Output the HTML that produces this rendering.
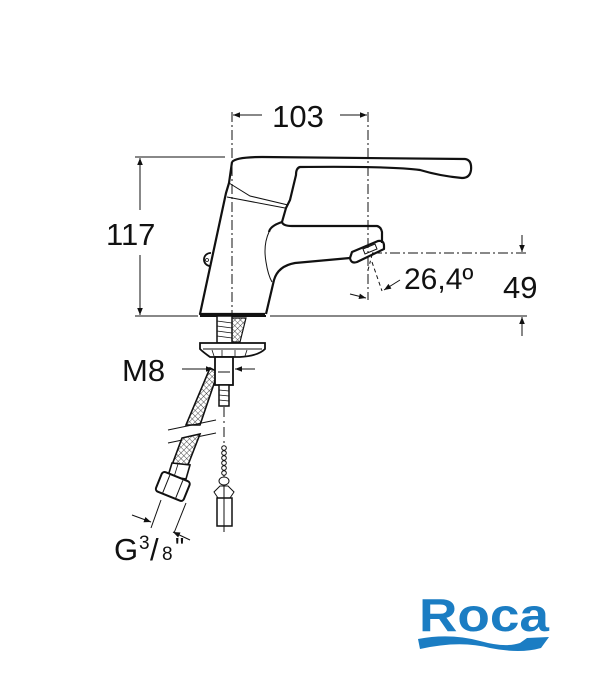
<!DOCTYPE html>
<html><head><meta charset="utf-8"><style>
html,body{margin:0;padding:0;background:#fff;}
svg{display:block;}
text{font-family:"Liberation Sans",Arial,sans-serif;fill:#111;}
</style></head><body>
<svg width="600" height="700" viewBox="0 0 600 700" xmlns="http://www.w3.org/2000/svg">
<defs>
<pattern id="hx" width="4" height="4" patternUnits="userSpaceOnUse" patternTransform="rotate(45)">
<rect width="4" height="4" fill="#fff"/><line x1="0" y1="0" x2="0" y2="4" stroke="#222" stroke-width="0.8"/><line x1="0" y1="0" x2="4" y2="0" stroke="#222" stroke-width="0.8"/>
</pattern>
<marker id="ar" viewBox="0 0 10 10" refX="10" refY="5" markerWidth="9" markerHeight="7" orient="auto-start-reverse" markerUnits="userSpaceOnUse"><path d="M0,1 L10,5 L0,9 z" fill="#111"/></marker>
</defs>
<g stroke="#111" fill="none" stroke-width="1">
<line x1="232" y1="112" x2="232" y2="315" stroke-dasharray="10,3,2,3"/>
<line x1="368" y1="112" x2="368" y2="300" stroke-dasharray="10,3,2,3"/>
<line x1="262" y1="115" x2="233" y2="115" marker-end="url(#ar)"/>
<line x1="340" y1="115" x2="367" y2="115" marker-end="url(#ar)"/>
<line x1="135" y1="157" x2="225" y2="157"/>
<line x1="135" y1="316" x2="198" y2="316"/>
<line x1="270" y1="316" x2="527" y2="316"/>
<line x1="140" y1="210" x2="140" y2="158" marker-end="url(#ar)"/>
<line x1="140" y1="255" x2="140" y2="315" marker-end="url(#ar)"/>
<line x1="372" y1="253" x2="527" y2="253" stroke-dasharray="10,3,2,3"/>
<line x1="522" y1="235" x2="522" y2="252" marker-end="url(#ar)"/>
<line x1="522" y1="336" x2="522" y2="317" marker-end="url(#ar)"/>
<line x1="372" y1="262" x2="382" y2="291" stroke-dasharray="4,3"/>
<line x1="400" y1="280" x2="384" y2="290" marker-end="url(#ar)"/>
<line x1="350" y1="294" x2="366" y2="298" marker-end="url(#ar)"/>
</g>
<path d="M211,253 A6.5,6.5 0 1 0 210,266" fill="none" stroke="#111" stroke-width="1.8"/>
<circle cx="207" cy="260" r="1.5" fill="none" stroke="#111" stroke-width="0.8"/>
<g stroke="#111" fill="none" stroke-width="2.2" stroke-linejoin="round">
<path d="M232,162 Q236,157 262,157 L465,159 Q472,160 471,170 Q470,178 462,178 Q440,176 420,170 Q390,166 300,167 Q296,168 296,175 L290,200 L286,208 L282,222 Q283,226 292,226 L377,226 Q381,227 382,232 L382,243"/>
<path d="M232,162 L229,183 L226,193 L200,314 L265,314"/>
<path d="M350,258 L295,263 Q278,266 274,280 L266,314"/>
<path d="M282,222 Q270,226 269,232"/>
<path d="M352,252 L378,241 Q384,240 384,246 L384,249 L357,262 Q351,264 350,258 Z"/>
</g>
<g stroke="#111" fill="none" stroke-width="1">
<path d="M229,183 L250,196 L288,205"/>
<path d="M227,197 L285,208"/>
<path d="M269,232 Q263,245 266,262 Q268,275 272,282"/>
<path d="M363,249 L375,244 L377,249 L365,254 Z"/>
<line x1="200" y1="316" x2="266" y2="316" stroke-width="2"/>
<line x1="372" y1="255" x2="368" y2="270" stroke-dasharray="3,3"/>
</g>
<path d="M232,318 L246,318 L240,342 L228,342 Z" fill="url(#hx)" stroke="#111" stroke-width="1.2"/>
<rect x="217" y="316" width="15" height="27" fill="#fff" stroke="#111" stroke-width="1.5"/>
<g stroke="#111" stroke-width="0.8"><line x1="217" y1="321" x2="232" y2="323"/><line x1="217" y1="326" x2="232" y2="328"/><line x1="217" y1="331" x2="232" y2="333"/><line x1="217" y1="336" x2="232" y2="338"/></g>
<path d="M200,343 L265,343 L265,349 Q258,356 240,357 L210,357 Q203,352 200,349 Z" fill="#fff" stroke="#111" stroke-width="1.8"/>
<line x1="203" y1="349" x2="262" y2="349" stroke="#111" stroke-width="1"/>
<g stroke="#111" stroke-width="0.8"><line x1="212" y1="350" x2="214" y2="356"/><line x1="222" y1="350" x2="222" y2="357"/><line x1="235" y1="350" x2="235" y2="357"/><line x1="247" y1="350" x2="245" y2="356"/></g>
<path d="M210,368 L218,372 L200,425 L186,425 Z" fill="url(#hx)" stroke="#111" stroke-width="1.6"/>
<rect x="215" y="357" width="18" height="28" fill="#fff" stroke="#111" stroke-width="1.8"/>
<line x1="218" y1="372" x2="230" y2="372" stroke="#111"/>
<rect x="219" y="385" width="10" height="21" fill="#fff" stroke="#111" stroke-width="1.5"/>
<g stroke="#111" stroke-width="0.7"><line x1="219" y1="390" x2="229" y2="391"/><line x1="219" y1="395" x2="229" y2="396"/><line x1="219" y1="400" x2="229" y2="401"/></g>
<g stroke="#111" stroke-width="1" fill="none">
<line x1="182" y1="369" x2="213" y2="369" marker-end="url(#ar)"/>
<line x1="255" y1="369" x2="235" y2="369" marker-end="url(#ar)"/>
<line x1="224" y1="407" x2="224" y2="532" stroke-dasharray="10,4,2,4"/>
<line x1="168" y1="430" x2="216" y2="420"/>
<line x1="168" y1="443" x2="216" y2="433"/>
</g>
<path d="M182,438 L200,434 L188,465 L172,465 Z" fill="url(#hx)" stroke="#111" stroke-width="1.6"/>
<path d="M172,463 L190,465 L186,479 L168,476 Z" fill="#fff" stroke="#111" stroke-width="1.6"/>
<line x1="178" y1="464" x2="174" y2="477" stroke="#111" stroke-width="0.8"/>
<g transform="rotate(22 173 486)"><rect x="158" y="476" width="30" height="21" rx="3" fill="#fff" stroke="#111" stroke-width="2"/><line x1="166" y1="477" x2="166" y2="496" stroke="#111"/><line x1="180" y1="477" x2="180" y2="496" stroke="#111"/></g>
<g stroke="#111" stroke-width="1" fill="none">
<line x1="161" y1="500" x2="151" y2="528"/>
<line x1="186" y1="503" x2="174" y2="533"/>
<line x1="132" y1="515" x2="151" y2="522" marker-end="url(#ar)"/>
<line x1="190" y1="540" x2="173" y2="532" marker-end="url(#ar)"/>
</g>
<g fill="#fff" stroke="#111" stroke-width="1">
<circle cx="224" cy="448" r="2.3"/><circle cx="224" cy="453" r="2.3"/><circle cx="224" cy="458" r="2.3"/><circle cx="224" cy="463" r="2.3"/><circle cx="224" cy="468" r="2.3"/><circle cx="224" cy="473" r="2.3"/>
<ellipse cx="224" cy="481" rx="5" ry="4"/>
<path d="M218,498 L214,492 L220,486 L228,486 L234,492 L230,498"/>
<rect x="217" y="498" width="15" height="28" stroke-width="1.5"/>
<line x1="224" y1="486" x2="224" y2="530"/>
</g>
<text x="298" y="127" font-size="31" text-anchor="middle">103</text>
<text x="106" y="245" font-size="31">117</text>
<text x="404" y="289" font-size="30">26,4º</text>
<text x="503" y="298" font-size="31">49</text>
<text x="122" y="381" font-size="31">M8</text>
<text x="114" y="560" font-size="31">G</text>
<text x="139" y="549" font-size="19">3</text>
<text x="150" y="560" font-size="31">/</text>
<text x="162" y="560" font-size="19">8</text>
<text x="175" y="556" font-size="26">"</text>
<text x="419" y="631" font-size="46" font-weight="bold" textLength="130" lengthAdjust="spacingAndGlyphs" style="fill:#1b7dc3">Roca</text>
<path d="M418,639 Q450,633 480,641 Q505,648 520,643 L527,638 L549,637 L541,648 Q520,654 490,648 Q460,640 420,649 Z" fill="#1b7dc3"/>
</svg>
</body></html>
